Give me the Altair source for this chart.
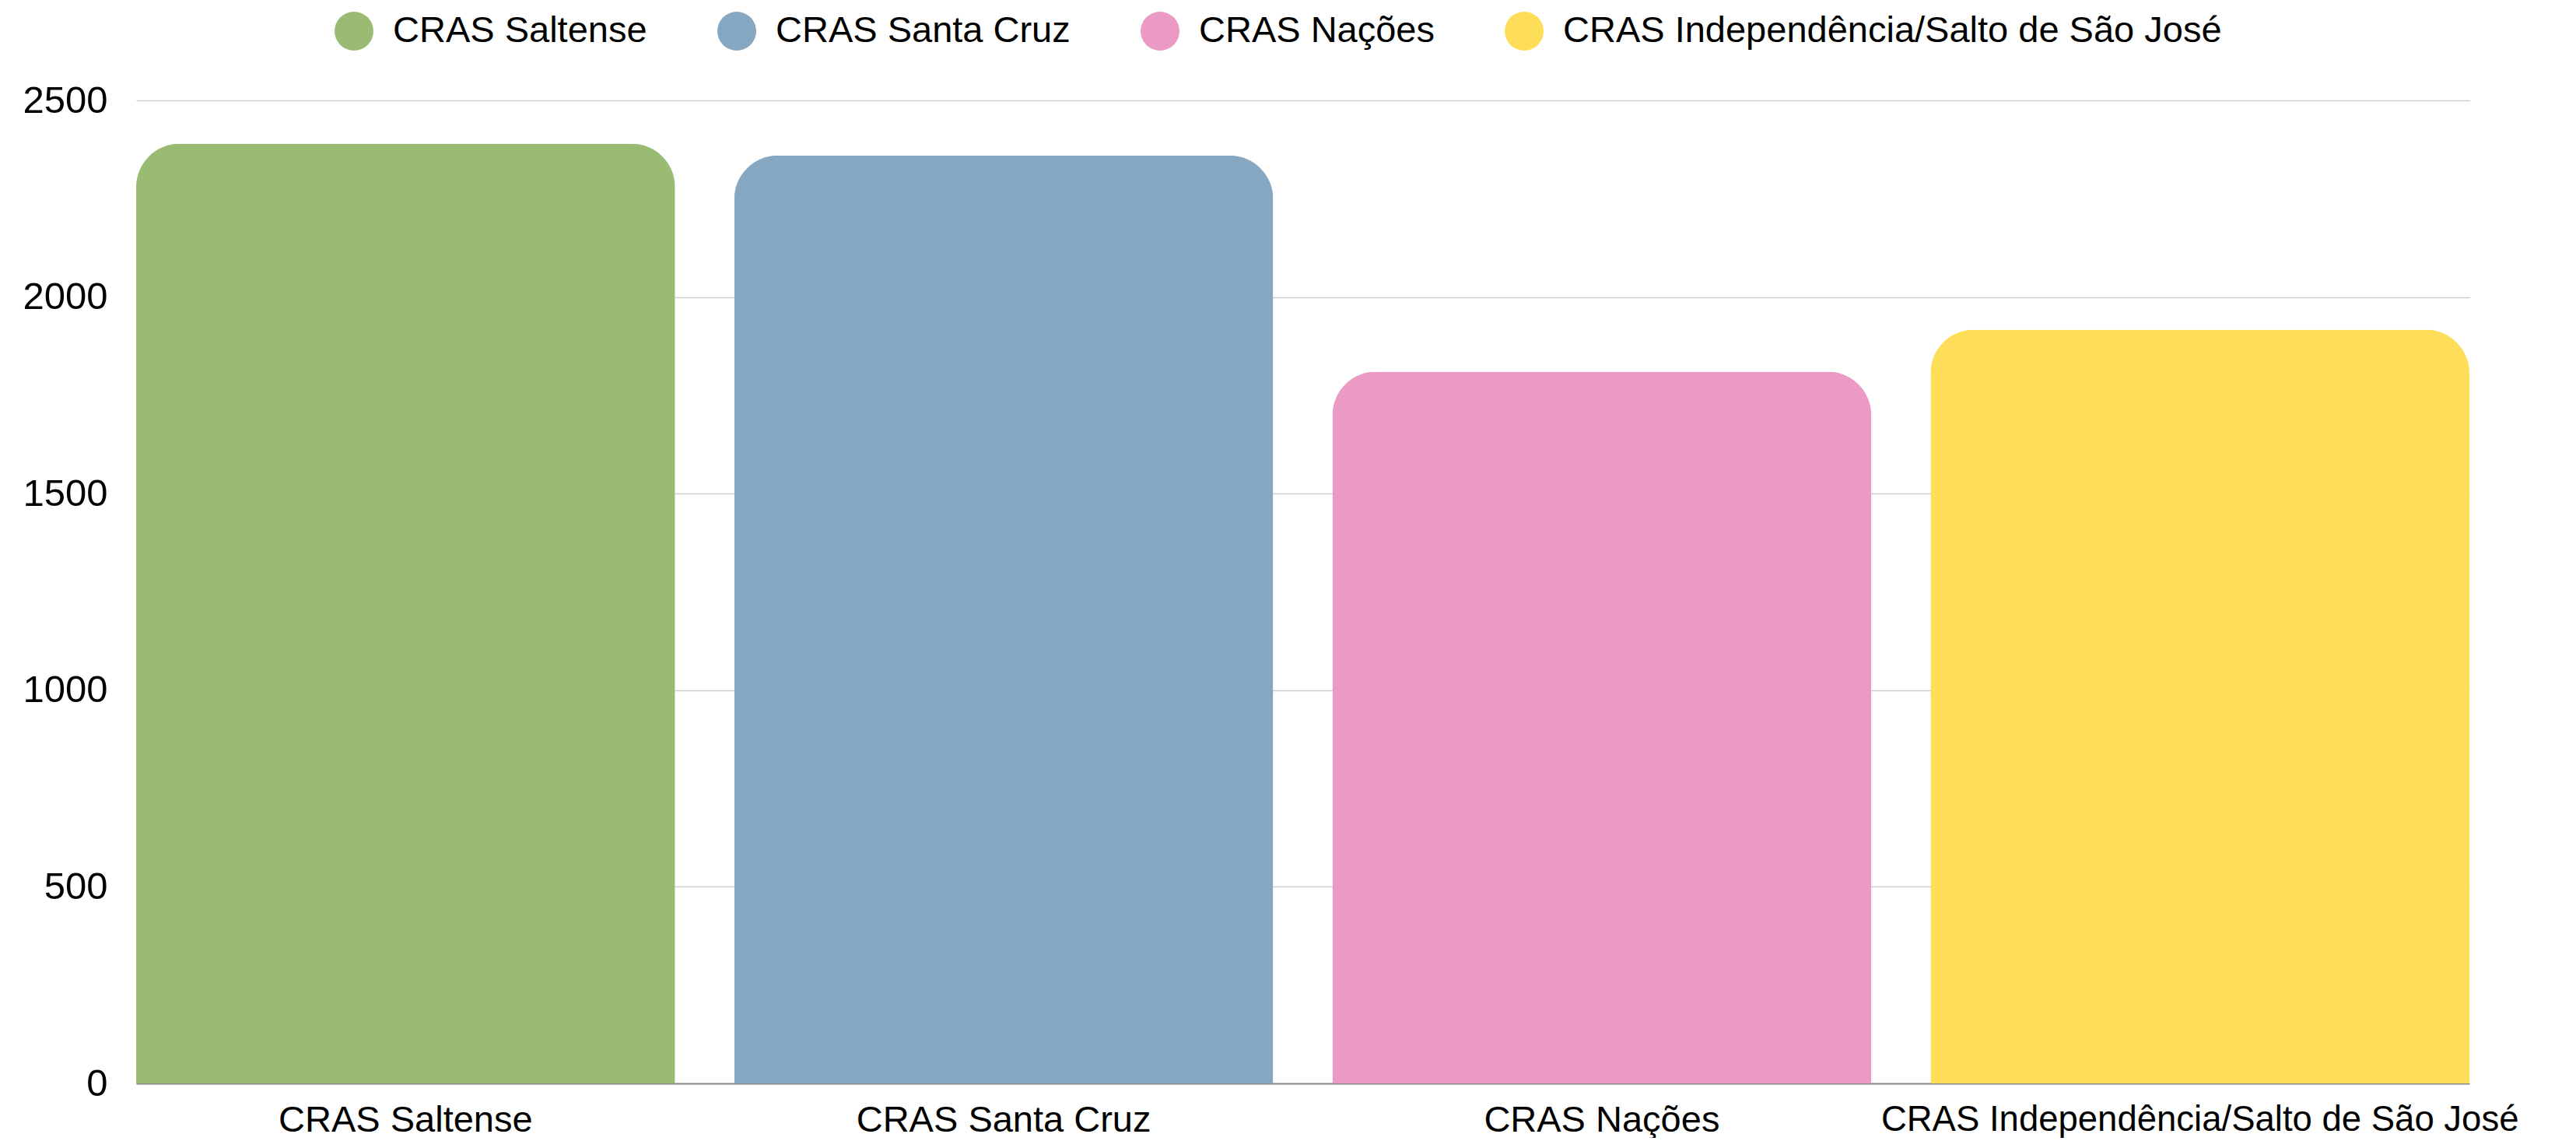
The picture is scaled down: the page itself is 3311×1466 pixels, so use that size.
import altair as alt
import pandas as pd

categories = [
    "CRAS Saltense",
    "CRAS Santa Cruz",
    "CRAS Nações",
    "CRAS Independência/Salto de São José",
]
values = [2390, 2360, 1810, 1917]
colors = ["#99BB74", "#86A7C2", "#EB9BC3", "#FEDE59"]
y_ticks = [0, 500, 1000, 1500, 2000, 2500]

df = pd.DataFrame({"cat": categories, "val": values})

FONT = "Liberation Sans"

chart = (
    alt.Chart(df)
    .mark_bar(cornerRadiusTopLeft=56, cornerRadiusTopRight=56)
    .encode(
        x=alt.X(
            "cat:N",
            sort=categories,
            title=None,
            scale=alt.Scale(paddingInner=0.099, paddingOuter=0),
            axis=alt.Axis(
                labelAngle=0,
                labelFont=FONT,
                labelFontSize=alt.expr("length(datum.label) > 20 ? 45.5 : 47"),
                labelColor="#000000",
                labelPadding=24,
                ticks=False,
                domain=True,
                domainColor="#8a8a8a",
                domainWidth=1.8,
                grid=False,
                labelLimit=2000,
            ),
        ),
        y=alt.Y(
            "val:Q",
            title=None,
            scale=alt.Scale(domain=[0, 2500], nice=False),
            axis=alt.Axis(
                values=y_ticks,
                format="d",
                labelFont=FONT,
                labelFontSize=49,
                labelColor="#000000",
                labelPadding=37,
                ticks=False,
                domain=False,
                grid=True,
                gridColor="#cfcfcf",
                gridWidth=1.6,
            ),
        ),
        fill=alt.Fill(
            "cat:N",
            sort=categories,
            scale=alt.Scale(domain=categories, range=colors),
            legend=alt.Legend(
                title=None,
                orient="none",
                legendX=255,
                legendY=-114,
                direction="horizontal",
                symbolType="circle",
                symbolSize=2500,
                symbolStrokeWidth=0,
                symbolOpacity=1,
                labelFont=FONT,
                labelFontSize=47,
                labelColor="#000000",
                labelOffset=25,
                columnPadding=90,
                padding=0,
                labelLimit=2000,
            ),
        ),
    )
    .properties(
        width=2999,
        height=1263,
        background="#ffffff",
        autosize=alt.AutoSizeParams(type="none"),
        padding={"left": 167, "top": 121, "right": 129, "bottom": 70},
    )
    .configure_view(strokeWidth=0, stroke="transparent")
)

chart.save("out.html", embed_options={"renderer": "svg", "actions": False})
